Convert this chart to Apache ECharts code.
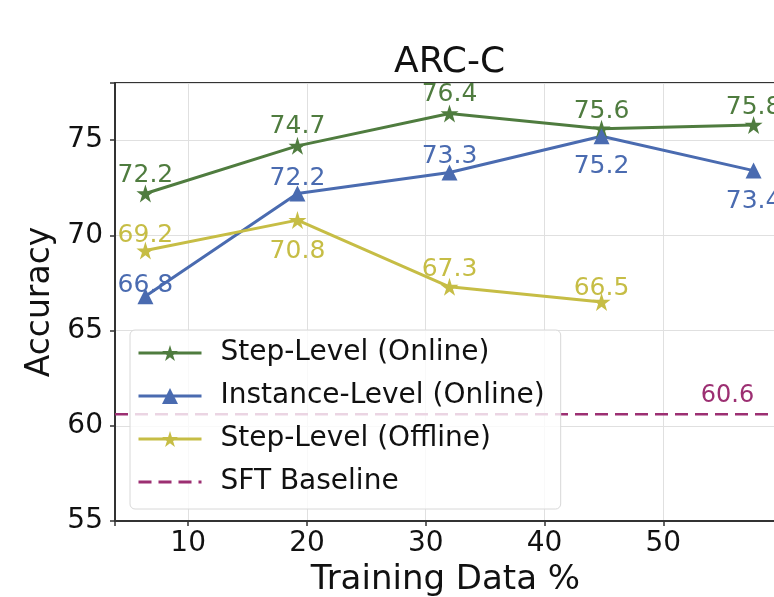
<!DOCTYPE html>
<html>
<head>
<meta charset="utf-8">
<script src="https://cdn.jsdelivr.net/npm/echarts@6/dist/echarts.min.js"></script>
<style>
  html, body { margin: 0; padding: 0; background: #fff; }
  #chart { width: 774px; height: 597px; }
</style>
</head>
<body>
<div id="chart"></div>
<script>
// ---- data ----
const trainingPct = [6.4, 19.2, 32.0, 44.8, 57.6];
const stepOnline = [72.2, 74.7, 76.4, 75.6, 75.8];
const instanceOnline = [66.8, 72.2, 73.3, 75.2, 73.4];
const stepOffline = [69.2, 70.8, 67.3, 66.5];
const sftBaseline = 60.6;
const baselineLabelX = 55.4;
const seriesNames = ['Step-Level (Online)', 'Instance-Level (Online)', 'Step-Level (Offline)', 'SFT Baseline'];
const yTicks = [55, 60, 65, 70, 75];
const xTicks = [10, 20, 30, 40, 50];

// ---- layout / style ----
const X_MIN = 3.84, X_MAX = 60.16;
const Y_MIN = 55, Y_MAX = 78;
const FONT = 'DejaVu Sans';
const C_GREEN = '#4f7c3f';
const C_BLUE = '#4a6bb0';
const C_YELLOW = '#c6bd45';
const C_PURPLE = '#9c2f72';
const STAR = 'path://M50,0 L61.2,34.5 L97.6,34.5 L68.2,55.9 L79.4,90.5 L50,69.1 L20.6,90.5 L31.8,55.9 L2.4,34.5 L38.8,34.5 Z';

const onlinePos = ['top', 'top', 'top', 'top', 'top'];
const onlineDist = [-4, -2, -3, -4, -4];
const instancePos = ['top', 'top', 'top', 'bottom', 'bottom'];
const instanceDist = [-10, -6, -4, 10, 10];
const offlinePos = ['top', 'bottom', 'top', 'top'];
const offlineDist = [-6, 10, -4, -8];

function pairs(xs, ys, pos, dist) {
  return ys.map((v, i) => ({
    value: [xs[i], v],
    label: { position: pos[i], distance: dist[i] }
  }));
}

const labelBase = (color) => ({
  show: true, position: 'top', distance: 5,
  fontFamily: FONT, fontSize: 25, color: color,
  formatter: (p) => p.value[1].toFixed(1)
});

const chart = echarts.init(document.getElementById('chart'), null, { renderer: 'canvas' });
chart.setOption({
  backgroundColor: '#ffffff',
  animation: false,
  title: {
    text: 'ARC-C', left: 394, top: 45, padding: 0,
    textStyle: { fontFamily: FONT, fontSize: 36, fontWeight: 'normal', color: '#111' }
  },
  grid: {
    left: 115, top: 83, width: 669, height: 438, containLabel: false, outerBoundsMode: 'none',
    show: true, borderColor: '#333', borderWidth: 2, backgroundColor: 'transparent'
  },
  legend: {
    orient: 'vertical', left: 130, top: 330,
    padding: [8, 16, 12, 7],
    itemWidth: 63, itemHeight: 20, itemGap: 13,
    backgroundColor: 'rgba(255,255,255,0.8)',
    borderColor: '#d8d8d8', borderWidth: 1, borderRadius: 5,
    lineStyle: { width: 3 },
    textStyle: { fontFamily: FONT, fontSize: 28, color: '#111', lineHeight: 30, padding: [0, 0, 0, 14] },
    data: [
      seriesNames[0], seriesNames[1], seriesNames[2],
      { name: seriesNames[3], itemStyle: { opacity: 0 } }
    ]
  },
  xAxis: {
    type: 'value', min: X_MIN, max: X_MAX, splitNumber: 6,
    name: 'Training Data %', nameLocation: 'middle', nameGap: 42,
    nameTextStyle: { fontFamily: FONT, fontSize: 34, color: '#111', padding: [0, 8, 0, 0] },
    axisLine: { show: true, lineStyle: { color: '#333', width: 2 } },
    axisTick: { show: true, inside: false, length: 5, lineStyle: { color: '#333', width: 1.5 } },
    axisLabel: {
      fontFamily: FONT, fontSize: 28, color: '#111', margin: 9,
      formatter: (v) => (xTicks.indexOf(v) >= 0 ? String(v) : '')
    },
    splitLine: { show: true, lineStyle: { color: '#e0e0e0', width: 1 } }
  },
  yAxis: {
    type: 'value', min: Y_MIN, max: Y_MAX, interval: 5,
    name: 'Accuracy', nameLocation: 'middle', nameGap: 56,
    nameTextStyle: { fontFamily: FONT, fontSize: 33, color: '#111' },
    axisLine: { show: true, lineStyle: { color: '#333', width: 2 } },
    axisTick: { show: true, inside: false, length: 5, lineStyle: { color: '#333', width: 1.5 } },
    axisLabel: {
      fontFamily: FONT, fontSize: 28, color: '#111', margin: 12,
      formatter: (v) => (yTicks.indexOf(v) >= 0 ? String(v) : '')
    },
    splitLine: { show: true, lineStyle: { color: '#e0e0e0', width: 1 } }
  },
  series: [
    {
      name: seriesNames[3], type: 'line', z: 1,
      data: [[X_MIN, sftBaseline], [X_MAX, sftBaseline]],
      showSymbol: false, symbol: 'circle',
      color: C_PURPLE,
      itemStyle: { color: C_PURPLE, opacity: 0 },
      lineStyle: { color: C_PURPLE, width: 2.5, type: [13, 7], opacity: 1 },
      markPoint: {
        symbol: 'circle', symbolSize: 1,
        itemStyle: { color: 'rgba(0,0,0,0)' },
        label: { show: true, position: 'top', distance: 6, fontFamily: FONT, fontSize: 24, color: C_PURPLE,
                 formatter: (p) => Number(p.value).toFixed(1) },
        data: [{ coord: [baselineLabelX, sftBaseline], value: sftBaseline }]
      }
    },
    {
      name: seriesNames[0], type: 'line', z: 3,
      data: pairs(trainingPct, stepOnline, onlinePos, onlineDist),
      symbol: STAR, symbolSize: 18, color: C_GREEN,
      lineStyle: { color: C_GREEN, width: 3 },
      itemStyle: { color: C_GREEN },
      label: labelBase(C_GREEN)
    },
    {
      name: seriesNames[1], type: 'line', z: 3,
      data: pairs(trainingPct, instanceOnline, instancePos, instanceDist),
      symbol: 'triangle', symbolSize: 16, color: C_BLUE,
      lineStyle: { color: C_BLUE, width: 3 },
      itemStyle: { color: C_BLUE },
      label: labelBase(C_BLUE)
    },
    {
      name: seriesNames[2], type: 'line', z: 3,
      data: pairs(trainingPct, stepOffline, offlinePos, offlineDist),
      symbol: STAR, symbolSize: 18, color: C_YELLOW,
      lineStyle: { color: C_YELLOW, width: 3 },
      itemStyle: { color: C_YELLOW },
      label: labelBase(C_YELLOW)
    }
  ]
});
</script>
</body>
</html>
